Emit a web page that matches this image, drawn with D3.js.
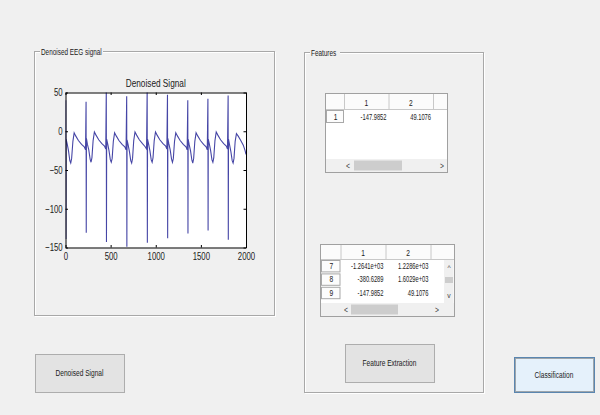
<!DOCTYPE html>
<html>
<head>
<meta charset="utf-8">
<script src="https://cdn.jsdelivr.net/npm/d3@7"></script>
<style>
  body { margin: 0; background: #f0f0f0; }
  text { font-family: 'Liberation Sans', Arial, sans-serif; fill: #1a1a1a; }
</style>
</head>
<body>
<script>
// signal vertices (sample index, amplitude)
var sigX = [0, 3, 5, 7, 18, 33, 48, 58, 68, 82, 96, 113, 143, 178, 208, 222,
  228, 230, 232, 243, 258, 273, 283, 293, 306, 320, 338, 368, 403, 432, 446,
  452, 454, 456, 467, 482, 497, 507, 517, 530, 544, 562, 592, 627, 657, 671,
  678, 680, 682, 693, 708, 723, 733, 743, 756, 770, 788, 818, 853, 883, 898,
  905, 907, 909, 920, 935, 950, 960, 970, 983, 997, 1015, 1045, 1080, 1110, 1123,
  1130, 1132, 1134, 1145, 1160, 1175, 1185, 1195, 1208, 1222, 1240, 1270, 1305, 1335, 1348,
  1355, 1357, 1359, 1370, 1385, 1400, 1410, 1420, 1433, 1447, 1465, 1495, 1530, 1558, 1571,
  1578, 1580, 1582, 1593, 1608, 1623, 1633, 1643, 1656, 1670, 1688, 1718, 1753, 1782, 1795,
  1802, 1804, 1806, 1817, 1832, 1847, 1857, 1867, 1880, 1894, 1912, 1942, 1970, 1990, 2000]
var sigY = [-15, 40, -139, -10, -16, -25, -38, -41, -35, -13, -2, -6, -12, -17, -20, -24,
  38, -131, -9, -17, -24, -36, -40, -34, -12, -1, -5, -11, -16, -19, -23,
  55, -143, -10, -16, -25, -37, -40, -35, -13, -2, -6, -12, -17, -20, -24,
  45, -149, -11, -17, -26, -38, -41, -35, -12, -1, -5, -11, -16, -20, -23,
  55, -144, -10, -16, -25, -37, -40, -34, -12, -1, -5, -11, -16, -19, -23,
  47, -138, -9, -16, -24, -36, -40, -35, -13, -2, -6, -12, -17, -20, -24,
  40, -132, -10, -17, -25, -37, -41, -35, -13, -2, -6, -12, -17, -20, -24,
  42, -128, -10, -16, -25, -37, -40, -34, -12, -1, -5, -11, -16, -19, -23,
  46, -140, -10, -17, -26, -38, -41, -35, -13, -3, -6, -12, -18, -25, -30]

var xTicks = [0, 500, 1000, 1500, 2000]
var yTicks = [-150, -100, -50, 0, 50]
var plotTitle = 'Denoised Signal'

var colHeads = ['1', '2']
var rows1 = ['1']
var vals1 = [['-147.9852', '49.1076']]
var rows2 = ['7', '8', '9']
var vals2 = [['-1.2641e+03', '1.2286e+03'], ['-380.6289', '1.6029e+03'], ['-147.9852', '49.1076']]

var panelNames = ['Denoised EEG signal', 'Features']
var buttonNames = ['Denoised Signal', 'Feature Extraction', 'Classification']

var W = 600, H = 415
var svg = d3.select('body').append('svg').attr('width', W).attr('height', H)
svg.append('rect').attr('width', W).attr('height', H).attr('fill', '#f0f0f0')

// the screenshot is squeezed sideways, so text gets a horizontal scale
function txt(g, x, y, s, size, anchor, sx) {
  return g.append('text')
    .attr('transform', 'translate(' + x + ',' + y + ') scale(' + (sx || 0.7) + ',1)')
    .attr('text-anchor', anchor || 'start')
    .attr('font-size', size)
    .text(s)
}

// etched panels
function panel(x, y, w, h, title, tw) {
  var g = svg.append('g')
  g.append('rect').attr('x', x + 1.5).attr('y', y + 1.5).attr('width', w).attr('height', h)
    .attr('fill', 'none').attr('stroke', '#ffffff')
  g.append('rect').attr('x', x + 0.5).attr('y', y + 0.5).attr('width', w).attr('height', h)
    .attr('fill', 'none').attr('stroke', '#a8a8a8')
  g.append('rect').attr('x', x + 6).attr('y', y - 5).attr('width', tw).attr('height', 10).attr('fill', '#f0f0f0')
  txt(g, x + 7, y + 3.5, title, 8.2, 'start', 0.78)
}
panel(34, 51, 240, 264, panelNames[0], 63)
panel(304, 52, 179, 340, panelNames[1], 30)

// axes
var x = d3.scaleLinear().domain([0, 2000]).range([65.5, 246])
var y = d3.scaleLinear().domain([-150, 50]).range([247.5, 92.5])

var ax = svg.append('g')
ax.append('rect').attr('x', x(0)).attr('y', y(50)).attr('width', x(2000) - x(0)).attr('height', y(-150) - y(50))
  .attr('fill', '#fff')
svg.append('clipPath').attr('id', 'clip').append('rect')
  .attr('x', x(0)).attr('y', y(50)).attr('width', x(2000) - x(0)).attr('height', y(-150) - y(50))

var pts = sigX.map((d, i) => [d, sigY[i]])
ax.append('path')
  .datum(pts)
  .attr('clip-path', 'url(#clip)')
  .attr('fill', 'none')
  .attr('stroke', '#4646a6')
  .attr('stroke-width', 1.1)
  .attr('d', d3.line().x(d => x(d[0])).y(d => y(d[1])))

function styleAxis(g) {
  g.select('.domain').attr('stroke', '#000')
  g.selectAll('line').attr('stroke', '#000')
  g.selectAll('text').attr('font-size', 10.8).attr('fill', '#1a1a1a')
    .attr('font-family', "'Liberation Sans', Arial, sans-serif")
}
var gb = ax.append('g').attr('transform', 'translate(0,' + y(-150) + ')')
  .call(d3.axisBottom(x).tickValues(xTicks).tickSize(-2.5).tickSizeOuter(0).tickPadding(5).tickFormat(d3.format('d')))
styleAxis(gb)
gb.selectAll('text').attr('transform', 'scale(0.72,1)')
var gt = ax.append('g').attr('transform', 'translate(0,' + y(50) + ')')
  .call(d3.axisTop(x).tickValues(xTicks).tickSize(-2.5).tickSizeOuter(0).tickFormat(''))
styleAxis(gt)
var gl = ax.append('g').attr('transform', 'translate(' + x(0) + ',0)')
  .call(d3.axisLeft(y).tickValues(yTicks).tickSize(-2.5).tickSizeOuter(0).tickPadding(4).tickFormat(d3.format('d')))
styleAxis(gl)
gl.selectAll('text').attr('transform', 'scale(0.72,1)')
var gr = ax.append('g').attr('transform', 'translate(' + x(2000) + ',0)')
  .call(d3.axisRight(y).tickValues(yTicks).tickSize(-2.5).tickSizeOuter(0).tickFormat(''))
styleAxis(gr)

txt(ax, (x(0) + x(2000)) / 2, 86.5, plotTitle, 11.8, 'middle', 0.7)

// uitables
function table(opt) {
  var g = svg.append('g')
  var c = opt.cols // column edges
  g.append('rect').attr('x', opt.x0 + 0.5).attr('y', opt.y0 + 0.5)
    .attr('width', opt.x1 - opt.x0).attr('height', opt.y1 - opt.y0)
    .attr('fill', '#fff').attr('stroke', '#a0a0a0')
  // header row
  g.append('rect').attr('x', opt.x0 + 1).attr('y', opt.y0 + 1)
    .attr('width', opt.x1 - opt.x0 - 1).attr('height', opt.hh - 1).attr('fill', '#fbfbfb')
  g.append('line').attr('x1', opt.x0).attr('x2', opt.x1).attr('y1', opt.y0 + opt.hh + 0.5).attr('y2', opt.y0 + opt.hh + 0.5)
    .attr('stroke', '#c8c8c8')
  c.forEach(cx => {
    g.append('line').attr('x1', cx + 0.5).attr('x2', cx + 0.5).attr('y1', opt.y0).attr('y2', opt.y0 + opt.hh)
      .attr('stroke', '#c8c8c8')
  })
  colHeads.forEach((h, i) => txt(g, (c[i] + c[i + 1]) / 2, opt.y0 + opt.hh - 3.5, h, 9.5, 'middle', 0.7))
  // body rows
  opt.rows.forEach((r, i) => {
    var ry = opt.y0 + opt.hh + i * opt.rh
    g.append('rect').attr('x', opt.x0 + 1.5).attr('y', ry + 1.5).attr('width', c[0] - opt.x0 - 2).attr('height', opt.rh - 2)
      .attr('fill', '#fcfcfc').attr('stroke', '#a8a8a8')
    txt(g, (opt.x0 + c[0]) / 2 + 1, ry + opt.rh - 3.5, r, 9.5, 'middle', 0.7)
    opt.vals[i].forEach((v, j) => {
      txt(g, c[j + 1] - 2, ry + opt.rh - 3.5, v, 9, 'end', 0.64)
    })
  })
  // horizontal scroll bar
  var sy = opt.y1 - 13
  g.append('rect').attr('x', opt.x0 + 1).attr('y', sy).attr('width', opt.x1 - opt.x0 - 1).attr('height', 13.5)
    .attr('fill', '#f0f0f0')
  g.append('rect').attr('x', opt.thumb[0]).attr('y', sy + 1.5).attr('width', opt.thumb[1] - opt.thumb[0]).attr('height', 10)
    .attr('fill', '#cdcdcd')
  txt(g, opt.arrows[0], sy + 9.5, '<', 8.5, 'middle', 0.8).style('fill', '#404040')
  txt(g, opt.arrows[1], sy + 9.5, '>', 8.5, 'middle', 0.8).style('fill', '#404040')
  if (opt.vscroll) {
    var vx = opt.x1 - 10
    g.append('rect').attr('x', vx).attr('y', opt.y0 + opt.hh + 1).attr('width', 9.5).attr('height', sy - opt.y0 - opt.hh - 1)
      .attr('fill', '#f0f0f0')
    g.append('rect').attr('x', vx + 1).attr('y', 277).attr('width', 8).attr('height', 6).attr('fill', '#cdcdcd')
    txt(g, vx + 5, 269.5, '^', 7.5, 'middle', 0.9).style('fill', '#404040')
    txt(g, vx + 5, 297.5, 'v', 7.5, 'middle', 0.9).style('fill', '#404040')
  }
  g.append('rect').attr('x', opt.x0 + 0.5).attr('y', opt.y0 + 0.5)
    .attr('width', opt.x1 - opt.x0).attr('height', opt.y1 - opt.y0)
    .attr('fill', 'none').attr('stroke', '#a0a0a0')
}
table({ x0: 325, y0: 93, x1: 447, y1: 172, hh: 16, rh: 14, cols: [344, 388.5, 433],
  rows: rows1, vals: vals1, thumb: [354, 402], arrows: [348, 442], vscroll: false })
table({ x0: 320, y0: 244, x1: 454, y1: 316, hh: 15, rh: 13.4, cols: [340.5, 385.5, 430.5],
  rows: rows2, vals: vals2, thumb: [351, 398], arrows: [346, 437], vscroll: true })

// push buttons
function button(x0, y0, x1, y1, label, focus) {
  var g = svg.append('g')
  g.append('rect').attr('x', x0 + 0.5).attr('y', y0 + 0.5).attr('width', x1 - x0).attr('height', y1 - y0)
    .attr('fill', focus ? '#e5f1fb' : '#e3e3e3').attr('stroke', focus ? '#5a86b0' : '#adadad')
  if (focus) {
    g.append('rect').attr('x', x0 + 1.5).attr('y', y0 + 1.5).attr('width', x1 - x0 - 2).attr('height', y1 - y0 - 2)
      .attr('fill', 'none').attr('stroke', '#333').attr('stroke-dasharray', '1,1').attr('stroke-width', 0.8)
  }
  txt(g, (x0 + x1) / 2, (y0 + y1) / 2 + 3, label, 8.8, 'middle', 0.75)
}
button(35, 354, 124, 392, buttonNames[0], false)
button(345, 344, 434, 382, buttonNames[1], false)
button(514, 357, 594, 392, buttonNames[2], true)
</script>
</body>
</html>
